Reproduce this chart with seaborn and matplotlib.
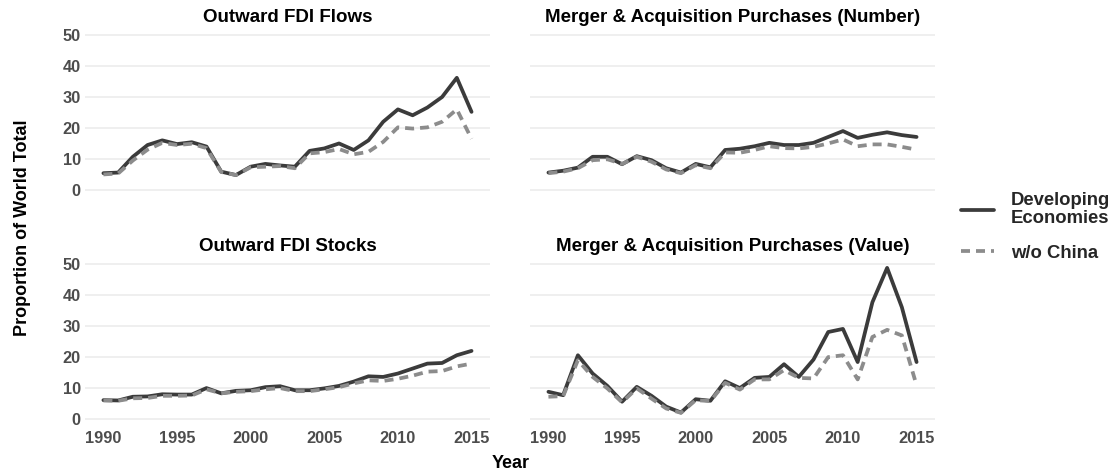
import pandas as pd
import seaborn as sns
import matplotlib.pyplot as plt
from matplotlib.lines import Line2D

# Data (% of world total)
years = list(range(1990, 2016))

flows_dev = [5.4, 5.6, 10.7, 14.5, 16.0, 14.8, 15.4, 14.0, 5.9, 4.8, 7.5, 8.4, 7.9, 7.5,
             12.6, 13.4, 15.0, 12.9, 16.0, 22.0, 26.0, 24.1, 26.6, 30.0, 36.2, 25.2]
flows_wo = [5.0, 5.3, 9.5, 13.0, 15.2, 14.5, 14.9, 13.5, 5.8, 4.8, 7.3, 7.5, 7.7, 7.0,
            11.8, 12.2, 13.2, 11.5, 12.3, 15.5, 20.2, 19.8, 20.2, 22.0, 26.0, 16.5]

ma_num_dev = [5.6, 6.2, 7.2, 10.7, 10.7, 8.3, 10.9, 9.6, 7.0, 5.6, 8.4, 7.3, 12.9, 13.3,
              14.1, 15.2, 14.5, 14.5, 15.2, 17.1, 19.0, 16.8, 17.8, 18.6, 17.7, 17.1]
ma_num_wo = [5.4, 5.9, 7.0, 9.6, 9.9, 8.4, 10.7, 9.1, 6.6, 5.4, 8.0, 7.0, 12.1, 12.0,
             12.9, 14.1, 13.5, 13.4, 13.9, 15.0, 16.3, 14.1, 14.7, 14.7, 13.9, 13.0]

stocks_dev = [6.1, 6.0, 7.2, 7.3, 8.0, 7.9, 7.9, 10.0, 8.3, 9.1, 9.3, 10.3, 10.6, 9.3,
              9.3, 9.9, 10.7, 12.1, 13.8, 13.6, 14.7, 16.3, 17.9, 18.1, 20.6, 22.0]
stocks_wo = [6.0, 5.9, 6.7, 6.8, 7.5, 7.5, 7.6, 9.6, 8.3, 8.8, 9.0, 9.6, 10.0, 9.0,
             9.0, 9.6, 10.3, 11.5, 12.5, 12.3, 13.0, 14.0, 15.3, 15.5, 17.0, 17.9]

ma_val_dev = [8.8, 7.7, 20.6, 14.7, 10.7, 5.6, 10.4, 7.5, 4.0, 2.1, 6.4, 5.9, 12.2, 10.0,
              13.3, 13.6, 17.7, 13.6, 19.2, 28.1, 29.1, 18.4, 37.7, 48.8, 36.1, 18.4]
ma_val_wo = [7.2, 7.4, 19.0, 13.6, 9.9, 5.4, 9.9, 6.6, 3.4, 2.0, 6.1, 5.8, 11.7, 9.5,
             12.8, 12.8, 15.8, 13.3, 13.1, 20.0, 20.6, 12.8, 26.5, 28.8, 27.0, 10.9]

panel_titles = ["Outward FDI Flows", "Merger & Acquisition Purchases (Number)",
                "Outward FDI Stocks", "Merger & Acquisition Purchases (Value)"]
series_names = ["Developing\nEconomies", "w/o China"]
panel_data = [(flows_dev, flows_wo), (ma_num_dev, ma_num_wo),
              (stocks_dev, stocks_wo), (ma_val_dev, ma_val_wo)]

# Long table for seaborn
rows = []
for title, (dev, wo) in zip(panel_titles, panel_data):
    for name, vals in zip(series_names, (dev, wo)):
        for y, v in zip(years, vals):
            rows.append({"panel": title, "series": name, "Year": y, "value": v})
df = pd.DataFrame(rows)

sns.set_style("white")
plt.rcParams['font.family'] = ['Liberation Sans', 'DejaVu Sans']

line_colors = {series_names[0]: "#3b3b3b", series_names[1]: "#8c8c8c"}
line_dashes = {series_names[0]: "", series_names[1]: (2.4, 1.6)}
lw = 2.7

fig, axes = plt.subplots(2, 2, figsize=(11.14, 4.75), dpi=100, sharex=True, sharey=True)
fig.subplots_adjust(left=0.0763, right=0.8393, top=0.9425, bottom=0.1015,
                    wspace=0.099, hspace=0.345)

for ax, title in zip(axes.ravel(), panel_titles):
    sub = df[df["panel"] == title]
    sns.lineplot(data=sub, x="Year", y="value", hue="series", style="series",
                 palette=line_colors, dashes=line_dashes, linewidth=lw,
                 legend=False, ax=ax)
    ax.set_title(title, fontsize=13.5, fontweight="bold", color="black", pad=4)
    ax.set_xlim(1988.75, 2016.25)
    ax.set_ylim(-2.5, 52.5)
    ax.set_yticks([0, 10, 20, 30, 40, 50])
    ax.set_xticks([1990, 1995, 2000, 2005, 2010, 2015])
    ax.yaxis.grid(True, color="#ebebeb", linewidth=1.1)
    ax.xaxis.grid(False)
    ax.set_axisbelow(True)
    for s in ax.spines.values():
        s.set_visible(False)
    ax.tick_params(length=0, labelsize=11.8, colors="#4d4d4d", pad=3)
    for lab in ax.get_xticklabels() + ax.get_yticklabels():
        lab.set_fontweight("bold")
    ax.set_xlabel("")
    ax.set_ylabel("")

fig.text(0.458, 0.025, "Year", ha="center", va="center", fontsize=13,
         fontweight="bold", color="black")
fig.text(0.02, 0.52, "Proportion of World Total", ha="center", va="center",
         rotation=90, fontsize=13, fontweight="bold", color="black")

handles = [Line2D([0], [0], color=line_colors[series_names[0]], linewidth=lw),
           Line2D([0], [0], color=line_colors[series_names[1]], linewidth=lw,
                  linestyle=(0, line_dashes[series_names[1]]))]
leg = fig.legend(handles, series_names, loc="upper left", bbox_to_anchor=(0.8624, 0.595),
                 frameon=False, borderpad=0, borderaxespad=0,
                 handlelength=1.78, handletextpad=0.95,
                 labelspacing=0.95, prop={"size": 13.3, "weight": "bold"})
for t in leg.get_texts():
    t.set_linespacing(1.05)

fig.savefig("out.png", dpi=100)
